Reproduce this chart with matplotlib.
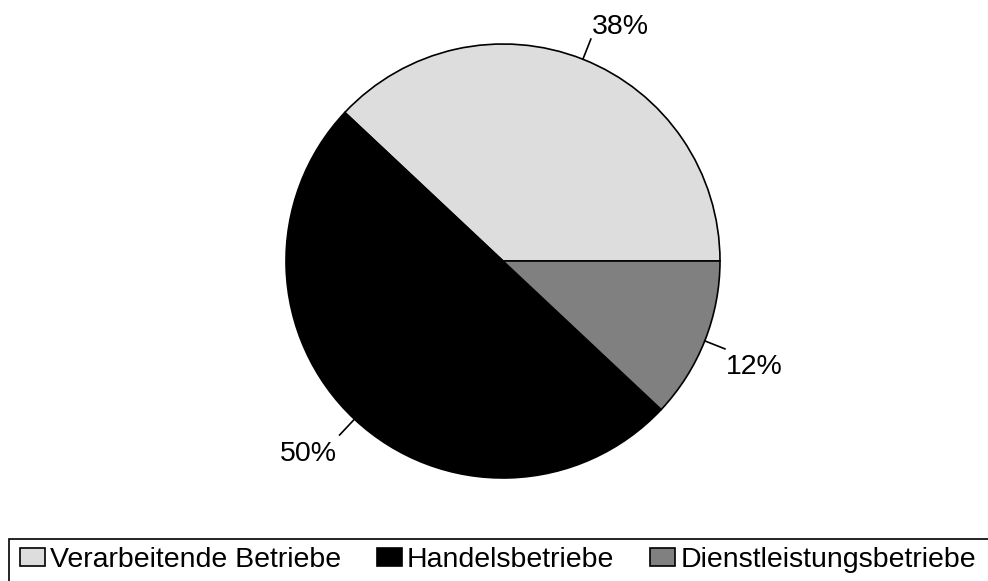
import numpy as np
import matplotlib.pyplot as plt
from matplotlib.patches import Patch, Rectangle

categories = ['Verarbeitende Betriebe', 'Handelsbetriebe', 'Dienstleistungsbetriebe']
shares = [38, 50, 12]
colors = ['#DDDDDD', '#000000', '#808080']

plt.rcParams['font.family'] = ['Liberation Sans', 'DejaVu Sans']
FS = 20.5

fig = plt.figure(figsize=(9.88, 5.81), dpi=100)
# square axes centred on the pie (centre ~ 503,261 px, radius ~217 px)
half = 217 * 1.4
ax = fig.add_axes([(503 - half) / 988, (581 - 261 - half) / 581,
                   2 * half / 988, 2 * half / 581])

wedges, _ = ax.pie(shares, colors=colors, startangle=0, counterclock=True,
                   wedgeprops=dict(edgecolor='black', linewidth=1.2))
ax.set_xlim(-1.4, 1.4)
ax.set_ylim(-1.4, 1.4)
ax.set_aspect('equal')
ax.axis('off')

# label placement: (ha, va, offset in points)
label_style = [('left', 'baseline', (1, 4)),
               ('right', 'top', (-2, -4)),
               ('left', 'top', (1, -4))]

for w, val, (ha, va, off) in zip(wedges, shares, label_style):
    ang = np.deg2rad((w.theta1 + w.theta2) / 2)
    x0, y0 = np.cos(ang), np.sin(ang)
    ax.plot([x0, 1.1 * x0], [y0, 1.1 * y0], color='black', lw=1.2)
    ax.annotate(f'{val}%', (1.1 * x0, 1.1 * y0), xytext=off,
                textcoords='offset points', ha=ha, va=va, fontsize=FS)

# legend box runs off the right and bottom edges
fig.patches.append(Rectangle((9 / 988, -0.05), 1.1, (581 - 539) / 581 + 0.05,
                             transform=fig.transFigure, fill=False,
                             edgecolor='black', linewidth=1.2))

handles = [Patch(facecolor=c, edgecolor='black', linewidth=1.2) for c in colors]
leg = fig.legend(handles, categories, ncol=3, loc='upper left',
                 bbox_to_anchor=(20 / 988, 1 - 547 / 581),
                 fontsize=FS, frameon=False,
                 handlelength=0.88, handleheight=0.6,
                 handletextpad=0.18, borderpad=0, borderaxespad=0,
                 columnspacing=1.25)

fig.savefig('out.png', dpi=100, facecolor='white')
